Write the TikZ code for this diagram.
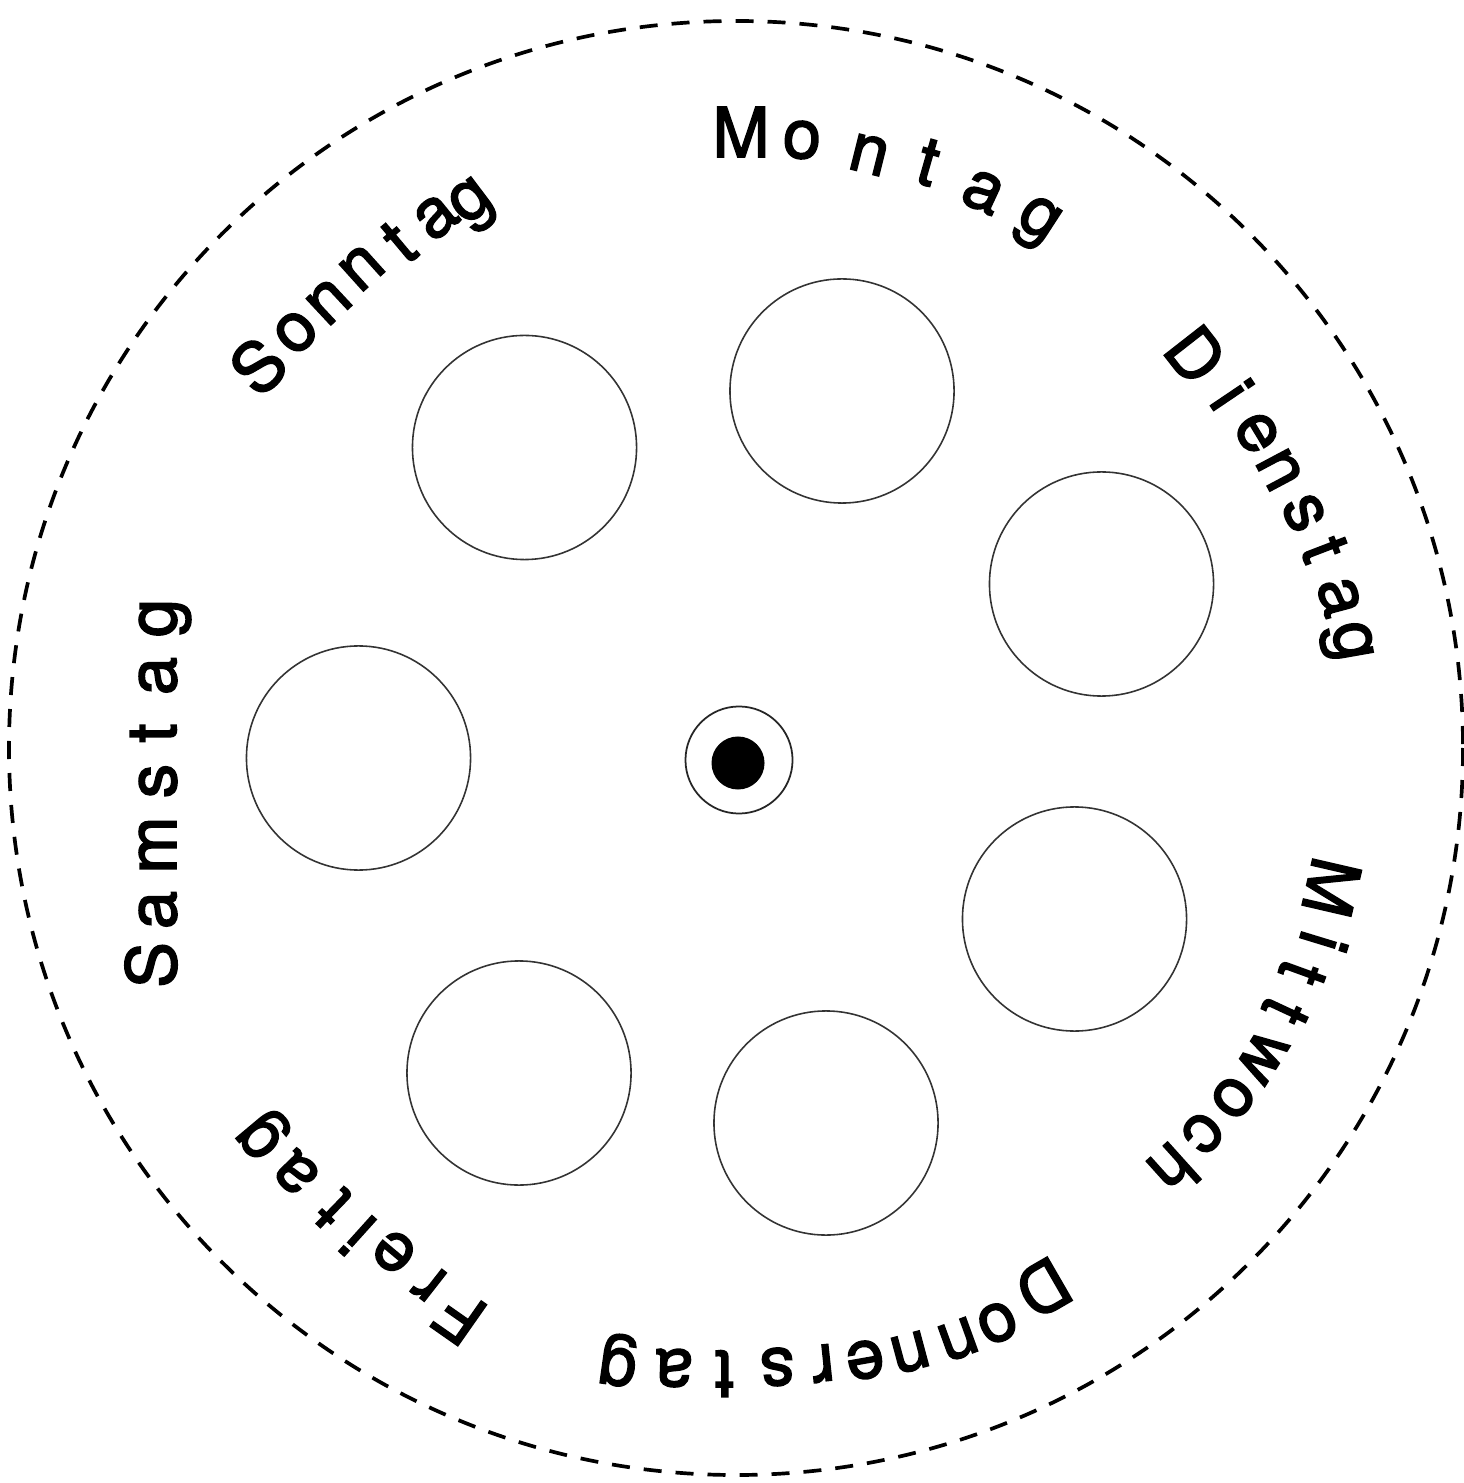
\documentclass[tikz,border=0pt]{standalone}
\usepackage{fontspec}
\setmainfont{TeX Gyre Heros}
\newfontfamily\dayfont[FakeBold=2.4]{TeX Gyre Heros}
\begin{document}
\begin{tikzpicture}[x=0.01cm,y=-0.01cm,
  dayletter/.style={inner sep=0pt, outer sep=0pt, text height=0.36cm, text depth=0pt,
    font=\dayfont\fontsize{19.5pt}{23pt}\selectfont},
  hole/.style={circle, draw=black!80, line width=0.45pt, inner sep=0pt, minimum size=2.24cm},
  rim/.style={dash pattern=on 0.18cm off 0.14cm, line width=1.05pt}]
\useasboundingbox (0,0) rectangle (1463,1483);
\fill[white] (0,0) rectangle (1463,1483);
% outer dashed cut line
\draw[rim] (736,748) circle [radius=727];
% centre
\node[circle, draw=black!85, line width=0.5pt, inner sep=0pt, minimum size=1.07cm] (ring) at (739,760) {};
\node[circle, fill=black, inner sep=0pt, minimum size=0.53cm] (dot) at (738,763) {};
% seven windows
\node[hole] (hMon) at (842,391) {};
\node[hole] (hDie) at (1101.5,584) {};
\node[hole] (hMit) at (1074.5,919) {};
\node[hole] (hDon) at (826,1123) {};
\node[hole] (hFre) at (519,1073) {};
\node[hole] (hSam) at (358.5,758) {};
\node[hole] (hSon) at (524.5,447.5) {};
% Montag
\foreach \c/\x/\y/\r [count=\i] in {M/741/139/0, o/802/140/-4, n/869/155/-14, t/927/167/-16, a/983/192/-25, g/1040/218/-33}
  \node[dayletter, rotate=\r] (mo\i) at (\x,\y) {\c};
% Dienstag
\foreach \c/\x/\y/\r [count=\i] in {D/1190/359/-52, i/1227/398/-56, e/1257/433/-59, n/1279/470/-62, s/1304/513/-65, t/1320/551/-69, a/1339/597/-75, g/1353/641/-80}
  \node[dayletter, rotate=\r] (di\i) at (\x,\y) {\c};
% Mittwoch
\foreach \c/\x/\y/\r [count=\i] in {M/1325/886/-103, i/1318/940/-107, t/1298/971/-110, t/1281/1009/-115, w/1262/1057/-122, o/1233/1098/-128, c/1203/1133/-133, h/1169/1165/-138}
  \node[dayletter, rotate=\r] (mi\i) at (\x,\y) {\c};
% Donnerstag
\foreach \c/\x/\y/\r [count=\i] in {D/1040/1282/-150, o/997/1323/-155, n/958/1339/-160, n/910/1352/-165, e/865/1360/-170, r/823/1363/-174, s/777/1367/-178, t/724/1369/180, a/674/1368/178, g/617/1367/172}
  \node[dayletter, rotate=\r] (do\i) at (\x,\y) {\c};
% Freitag
\foreach \c/\x/\y/\r [count=\i] in {F/464/1311/145, r/430/1283/142, e/394/1252/140, i/362/1231/138, t/337/1205/136, a/296/1173/134, g/259/1138/130}
  \node[dayletter, rotate=\r] (fr\i) at (\x,\y) {\c};
% Samstag
\foreach \c/\x/\y/\r [count=\i] in {S/158/965/90, a/158/910/90, m/158/845/90, s/158/781/90, t/158/733/90, a/158/676/90, g/158/618/90}
  \node[dayletter, rotate=\r] (sa\i) at (\x,\y) {\c};
% Sonntag
\foreach \c/\x/\y/\r [count=\i] in {S/263/371/45, o/296/332/44, n/329/302/43, n/362/268/42, t/402/246/40, a/436/217/39, g/470/200/37}
  \node[dayletter, rotate=\r] (so\i) at (\x,\y) {\c};
\end{tikzpicture}
\end{document}
